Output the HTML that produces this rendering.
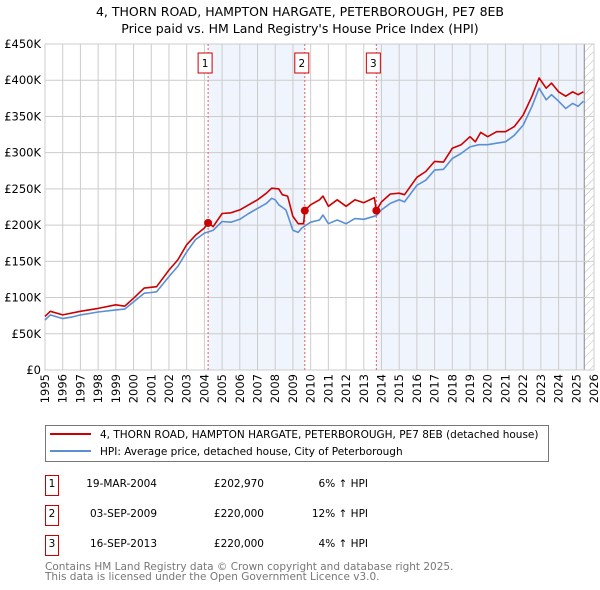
<!DOCTYPE html>
<html><head><meta charset="utf-8"><style>
body{margin:0;background:#fff;font-family:"DejaVu Sans","Liberation Sans",sans-serif;}
svg{display:block}
text{font-family:"DejaVu Sans","Liberation Sans",sans-serif;}
</style></head><body>
<svg id="chart" width="600" height="590">
<text x="300" y="16" text-anchor="middle" font-size="12.5" fill="#000">4, THORN ROAD, HAMPTON HARGATE, PETERBOROUGH, PE7 8EB</text>
<text x="300" y="33" text-anchor="middle" font-size="12.5" fill="#000">Price paid vs. HM Land Registry's House Price Index (HPI)</text>
<g id="plot"></g>
<g>
<rect x="45.5" y="425.5" width="503" height="36" fill="#fff" stroke="#777"/>
<line x1="50" y1="434" x2="91" y2="434" stroke="#cc0000" stroke-width="2"/>
<text x="100" y="438" font-size="10.5">4, THORN ROAD, HAMPTON HARGATE, PETERBOROUGH, PE7 8EB (detached house)</text>
<line x1="50" y1="451" x2="91" y2="451" stroke="#5b8fd4" stroke-width="2"/>
<text x="100" y="455" font-size="10.5">HPI: Average price, detached house, City of Peterborough</text>
</g>
<g font-size="10.5">
<rect x="45.5" y="475.5" width="13" height="20" fill="#fff" stroke="#cc0000"/>
<text x="52" y="487" text-anchor="middle">1</text>
<text x="157" y="487" text-anchor="end">19-MAR-2004</text>
<text x="264" y="487" text-anchor="end">£202,970</text>
<text x="368" y="487" text-anchor="end">6% ↑ HPI</text>
<rect x="45.5" y="505.5" width="13" height="20" fill="#fff" stroke="#cc0000"/>
<text x="52" y="517" text-anchor="middle">2</text>
<text x="157" y="517" text-anchor="end">03-SEP-2009</text>
<text x="264" y="517" text-anchor="end">£220,000</text>
<text x="368" y="517" text-anchor="end">12% ↑ HPI</text>
<rect x="45.5" y="535.5" width="13" height="20" fill="#fff" stroke="#cc0000"/>
<text x="52" y="547" text-anchor="middle">3</text>
<text x="157" y="547" text-anchor="end">16-SEP-2013</text>
<text x="264" y="547" text-anchor="end">£220,000</text>
<text x="368" y="547" text-anchor="end">4% ↑ HPI</text>
</g>
<text x="45" y="570" font-size="10.5" fill="#777">Contains HM Land Registry data © Crown copyright and database right 2025.</text>
<text x="45" y="580" font-size="10.5" fill="#777">This data is licensed under the Open Government Licence v3.0.</text>
</svg>
<script>
const yTicks=[0,50000,100000,150000,200000,250000,300000,350000,400000,450000];
const yTickLabels=["£0","£50K","£100K","£150K","£200K","£250K","£300K","£350K","£400K","£450K"];
const xYears=[1995,1996,1997,1998,1999,2000,2001,2002,2003,2004,2005,2006,2007,2008,2009,2010,2011,2012,2013,2014,2015,2016,2017,2018,2019,2020,2021,2022,2023,2024,2025,2026];
const hpiT=[1995.0,1995.3,1996,1996.5,1997,1997.5,1998,1999,1999.5,2000,2000.6,2001,2001.3,2002,2002.5,2003,2003.5,2004,2004.5,2005,2005.5,2006,2006.5,2007,2007.5,2007.8,2008,2008.2,2008.6,2009,2009.3,2009.5,2010,2010.5,2010.7,2011,2011.5,2012,2012.5,2013,2013.7,2014,2014.5,2015,2015.3,2016,2016.5,2017,2017.5,2018,2018.5,2019,2019.5,2020,2020.5,2021,2021.5,2022,2022.5,2022.9,2023.3,2023.6,2024,2024.4,2024.8,2025.1,2025.4];
const hpiV=[69,76,71,73,76,78,80,83,84,94,106,107,108,129,143,163,180,189,193,205,204,208,216,223,230,237,235,228,221,193,190,196,204,207,214,202,207,202,209,208,213,221,230,235,232,255,262,276,277,292,299,308,311,311,313,315,324,338,364,389,373,380,371,361,368,364,371];
const propT=[1995.0,1995.3,1996,1997,1998,1999,1999.5,2000,2000.6,2001.3,2002,2002.5,2003,2003.5,2004,2004.21,2004.5,2005,2005.5,2006,2006.5,2007,2007.5,2007.8,2008.2,2008.4,2008.7,2009,2009.3,2009.6,2009.67,2010,2010.5,2010.7,2011,2011.5,2012,2012.5,2013,2013.6,2013.71,2014,2014.5,2015,2015.3,2016,2016.5,2017,2017.5,2018,2018.5,2019,2019.3,2019.6,2020,2020.5,2021,2021.5,2022,2022.5,2022.9,2023.3,2023.6,2024,2024.4,2024.8,2025.1,2025.4];
const propV=[74,81,76,81,85,90,88,99,113,115,138,152,173,186,196,203,198,216,217,221,228,235,244,251,250,242,240,212,202,202,220,228,235,240,226,235,226,235,231,238,220,232,243,244,242,266,274,288,287,306,311,322,315,328,322,329,329,336,352,378,403,389,396,384,378,384,380,384];
const saleT=[2004.21,2009.67,2013.71];
const saleV=[202970,220000,220000];
const saleLabels=["1","2","3"];

const NS="http://www.w3.org/2000/svg";
const L=45,R=594,T=44,B=370;
const xs=t=>L+(t-1995)/(2026-1995)*(R-L);
const ys=v=>B-v/450000*(B-T);
const g=document.getElementById('plot');
function mk(tag,attrs,parent){const e=document.createElementNS(NS,tag);for(const k in attrs)e.setAttribute(k,attrs[k]);(parent||g).appendChild(e);return e;}
const defs=mk('defs',{});
const pat=mk('pattern',{id:'hatch',width:6,height:6,patternUnits:'userSpaceOnUse',patternTransform:'rotate(45)'},defs);
mk('line',{x1:0,y1:0,x2:0,y2:6,stroke:'#bbb','stroke-width':1},pat);
let sh=mk('rect',{x:xs(saleT[0]),y:T,width:xs(saleT[1])-xs(saleT[0]),height:B-T,fill:'#f0f4fd'});


const fut=2025.45;
sh=mk('rect',{x:xs(saleT[2]),y:T,width:xs(fut)-xs(saleT[2]),height:B-T,fill:'#f0f4fd'});


let ht=mk('rect',{x:xs(fut),y:T,width:R-xs(fut),height:B-T,fill:'url(#hatch)'});


mk('line',{x1:xs(fut),y1:T,x2:xs(fut),y2:B,stroke:'#888','stroke-width':1});
yTicks.forEach((v,i)=>{
  const ln=mk('line',{x1:L,x2:R,y1:ys(v),y2:ys(v),stroke:'#ccc','stroke-width':1});
  
  
  const tx=mk('text',{x:L-4,y:ys(v)+4,'text-anchor':'end','font-size':11.5,fill:'#000'});
  tx.textContent=yTickLabels[i];
  
  
});
xYears.forEach(yr=>{
  const x=xs(yr);
  const ln=mk('line',{x1:x,x2:x,y1:T,y2:B,stroke:'#ccc','stroke-width':1});
  
  
  const tx=mk('text',{x:0,y:0,'text-anchor':'end','font-size':11.5,fill:'#000',transform:`translate(${x+4},${B+4}) rotate(-90)`});
  tx.textContent=yr;
  
  
});
mk('rect',{x:L,y:T,width:R-L,height:B-T,fill:'none',stroke:'#ccc'});
saleT.forEach((t,i)=>{
  const ln=mk('line',{x1:xs(t),x2:xs(t),y1:T,y2:B,stroke:'#e06060','stroke-width':1,'stroke-dasharray':'2,2'});
  
  
  const bx=mk('rect',{x:xs(t)-10,y:53,width:14,height:20,fill:'#fff',stroke:'#cc0000'});
  
  
  const tx=mk('text',{x:xs(t)-3,y:67,'text-anchor':'middle','font-size':10.5});
  tx.textContent=saleLabels[i];
  
  
});
function path(T_,V_,color,name){
  const d=T_.map((t,i)=>(i?'L':'M')+xs(t).toFixed(1)+','+ys(V_[i]*1000).toFixed(1)).join('');
  const p=mk('path',{d:d,fill:'none',stroke:color,'stroke-width':1.6,'stroke-linejoin':'round'});
  
  
}
path(hpiT,hpiV,'#5b8fd4','hpi-line');
path(propT,propV,'#cc0000','property-line');
saleT.forEach((t,i)=>{
  const c=mk('circle',{cx:xs(t),cy:ys(saleV[i]),r:4,fill:'#cc0000'});
  
  
});
</script>
</body></html>
